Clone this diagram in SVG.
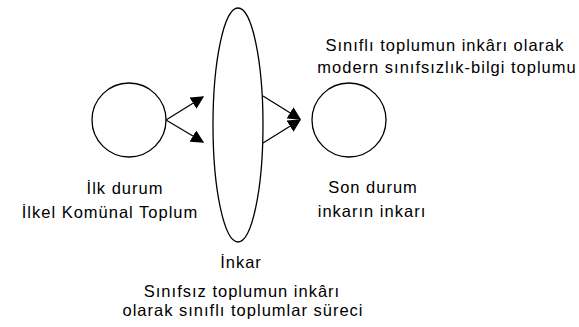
<svg xmlns="http://www.w3.org/2000/svg" width="579" height="327" viewBox="0 0 579 327">
<style>
.n{fill:none;stroke:#000;stroke-width:1.3}
.c{fill:none;stroke:#000;stroke-width:1.2}
text{font-family:"Liberation Sans",Arial,sans-serif;font-size:16.5px;letter-spacing:1px;fill:#000;text-anchor:middle}
</style>
<defs>
<marker id="ah" viewBox="0 0 10 10" refX="9" refY="5" markerWidth="13" markerHeight="13" markerUnits="userSpaceOnUse" orient="auto">
<path d="M0,0 L10,5 L0,10 z" fill="#000"/>
</marker>
</defs>
<rect width="579" height="327" fill="#fff"/>
<g id="ilk">
<circle class="n" cx="129" cy="120" r="37"/>
<text x="125" y="194">İlk durum</text>
<text x="110" y="218">İlkel Komünal Toplum</text>
</g>
<g id="inkar">
<ellipse class="n" cx="238" cy="125" rx="25" ry="117"/>
<text x="241" y="268">İnkar</text>
<text x="242" y="297">Sınıfsız toplumun inkârı</text>
<text x="243" y="316">olarak sınıflı toplumlar süreci</text>
</g>
<g id="son">
<circle class="n" cx="349" cy="120" r="37"/>
<text x="373" y="193">Son durum</text>
<text x="372" y="217">inkarın inkarı</text>
<text x="445" y="51">Sınıflı toplumun inkârı olarak</text>
<text x="447" y="73">modern sınıfsızlık-bilgi toplumu</text>
</g>
<g id="connectors">
<line class="c" x1="166" y1="120" x2="203" y2="97" marker-end="url(#ah)"/>
<line class="c" x1="166" y1="120" x2="203" y2="142" marker-end="url(#ah)"/>
<line class="c" x1="263" y1="96" x2="300" y2="119" marker-end="url(#ah)"/>
<line class="c" x1="263" y1="143" x2="300" y2="120" marker-end="url(#ah)"/>
</g>
</svg>
